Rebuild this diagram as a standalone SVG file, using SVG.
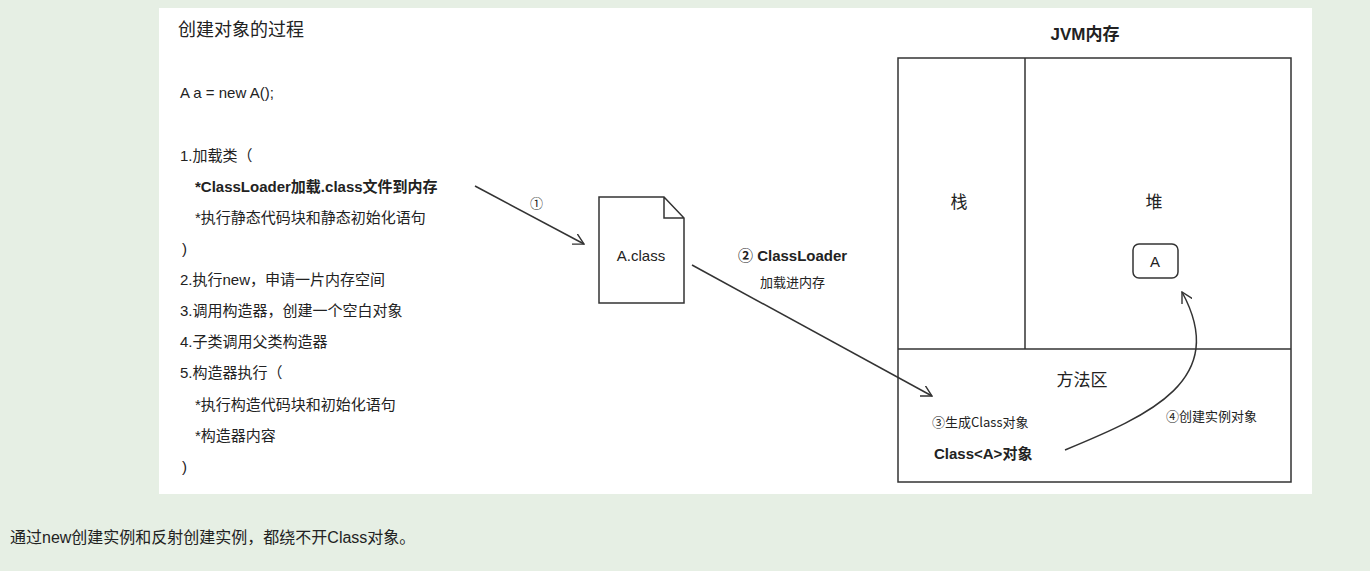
<svg xmlns="http://www.w3.org/2000/svg" width="1370" height="571" viewBox="0 0 1370 571">
<style>
text{font-family:"Liberation Sans","Noto Sans CJK SC",sans-serif;fill:#222;font-size:15px}
.b{font-weight:bold}
.l{font-size:17px}
.s{font-size:13px}
.c{font-family:"Noto Sans CJK SC","DejaVu Sans",sans-serif}
.ln{fill:none;stroke:#333;stroke-width:1.5}
</style>
<defs><marker id="ah" viewBox="0 0 12 12" refX="11" refY="6" markerWidth="12" markerHeight="12" markerUnits="userSpaceOnUse" orient="auto"><path d="M0,0 L11,6 L0,12" fill="none" stroke="#333" stroke-width="1.4"/></marker></defs>
<rect width="1370" height="571" fill="#e6efe4"/>
<rect x="159" y="8" width="1153" height="486" fill="#fff"/>
<g id="steps">
<text x="178" y="36" style="font-size:18px">创建对象的过程</text>
<text x="180" y="98">A a = new A();</text>
<text x="180" y="161">1.加载类（</text>
<text x="195" y="192" class="b">*ClassLoader加载.class文件到内存</text>
<text x="195" y="223">*执行静态代码块和静态初始化语句</text>
<text x="182" y="254">)</text>
<text x="180" y="285">2.执行new，申请一片内存空间</text>
<text x="180" y="316">3.调用构造器，创建一个空白对象</text>
<text x="180" y="347">4.子类调用父类构造器</text>
<text x="180" y="378">5.构造器执行（</text>
<text x="195" y="410">*执行构造代码块和初始化语句</text>
<text x="195" y="441">*构造器内容</text>
<text x="182" y="472">)</text>
</g>
<g id="aclass">
<path class="ln" d="M599,197 H664 L684,218 V303 H599 Z M664,197 V218 H684"/>
<text x="641" y="261" text-anchor="middle">A.class</text>
</g>
<g id="jvm">
<text x="1085" y="40" text-anchor="middle" class="b l">JVM内存</text>
<rect class="ln" x="898" y="58" width="393" height="424"/>
<line class="ln" x1="1025" y1="58" x2="1025" y2="349"/>
<line class="ln" x1="898" y1="349" x2="1291" y2="349"/>
<text x="959" y="208" text-anchor="middle" class="l">栈</text>
<text x="1154" y="208" text-anchor="middle" class="l">堆</text>
<rect class="ln" x="1133" y="244" width="45" height="34" rx="6"/>
<text x="1155" y="267" text-anchor="middle">A</text>
<text x="1082" y="386" text-anchor="middle" class="l">方法区</text>
<text x="932" y="427" class="s c">③生成Class对象</text>
<text x="934" y="459" class="b">Class&lt;A&gt;对象</text>
<text x="1166" y="421" class="s c">④创建实例对象</text>
</g>
<g id="connectors">
<line class="ln" x1="475" y1="186" x2="584" y2="244" marker-end="url(#ah)"/>
<text x="530" y="208" class="s c">①</text>
<line class="ln" x1="692" y1="265" x2="932" y2="396" marker-end="url(#ah)"/>
<text x="738" y="261" class="b">② ClassLoader</text>
<text x="760" y="287" class="s">加载进内存</text>
<path class="ln" d="M1065,450 C1150,415 1230,380 1182,292" marker-end="url(#ah)"/>
</g>
<text x="10" y="543" style="font-size:16px">通过new创建实例和反射创建实例，都绕不开Class对象。</text>
</svg>
